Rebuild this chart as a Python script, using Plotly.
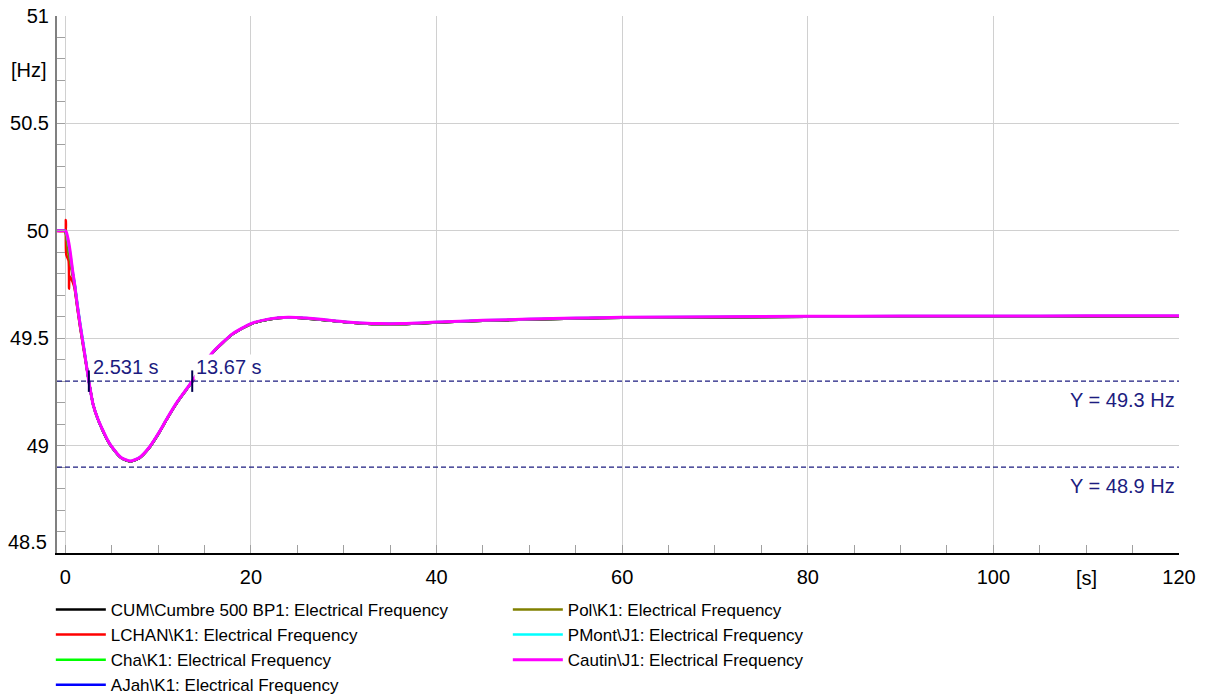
import plotly.graph_objects as go

# ---------------- data ----------------
# early transient (per series), seconds / Hz
T_CAUTIN_EARLY = [-1.0, 0.0, 0.1, 0.3, 0.5, 0.8, 1.0, 1.3, 1.6, 2.0]
V_CAUTIN_EARLY = [50.0, 50.0, 49.995, 49.96, 49.91, 49.81, 49.75, 49.65, 49.56, 49.45]

T_LCHAN_EARLY = [-1.0, 0.0, 0.05, 0.1, 0.35, 0.4, 0.45, 0.8, 1.0, 1.3, 1.6, 2.0]
V_LCHAN_EARLY = [50.0, 50.0, 50.05, 49.89, 49.86, 49.73, 49.79, 49.76, 49.73, 49.64, 49.55, 49.45]

T_POL_EARLY = [-1.0, 0.0, 0.1, 0.3, 0.5, 0.8, 1.0, 1.3, 1.6, 2.0]
V_POL_EARLY = [50.0, 50.0, 49.97, 49.90, 49.86, 49.79, 49.74, 49.64, 49.55, 49.44]

T_PMONT_EARLY = [-1.0, 0.0, 0.1, 0.3, 0.5, 0.8, 1.0, 1.3, 1.6, 2.0]
V_PMONT_EARLY = [50.0, 50.0, 49.99, 49.95, 49.90, 49.81, 49.76, 49.66, 49.57, 49.46]

T_OTHER_EARLY = [-1.0, 0.0, 0.1, 0.3, 0.5, 0.8, 1.0, 1.3, 1.6, 2.0]
V_OTHER_EARLY = [50.0, 50.0, 49.98, 49.93, 49.88, 49.80, 49.75, 49.65, 49.56, 49.45]

# common tail after the first 2 s
T_TAIL = [2.531, 3.0, 3.5, 4.0, 4.5, 5.0, 6.0, 7.0, 8.0, 9.0, 10.0, 11.0, 12.0, 13.0,
          13.67, 15.0, 16.0, 18.0, 20.0, 22.0, 24.0, 26.0, 28.0, 30.0, 32.0, 34.0,
          36.0, 38.0, 40.0, 45.0, 50.0, 55.0, 60.0, 70.0, 80.0, 90.0, 100.0, 110.0, 120.0]
V_TAIL = [49.30, 49.19, 49.125, 49.075, 49.03, 48.995, 48.945, 48.928, 48.945, 48.99, 49.055, 49.13, 49.20, 49.26,
          49.30, 49.385, 49.44, 49.52, 49.568, 49.590, 49.598, 49.594, 49.586, 49.577, 49.571, 49.568,
          49.568, 49.571, 49.575, 49.583, 49.589, 49.594, 49.597, 49.600, 49.602, 49.603, 49.603, 49.604, 49.604]
V_TAIL_OTHER = [49.30, 49.19, 49.123, 49.073, 49.028, 48.993, 48.943, 48.926, 48.943, 48.988, 49.053, 49.128, 49.198, 49.258,
                49.298, 49.383, 49.438, 49.518, 49.566, 49.588, 49.596, 49.592, 49.584, 49.575, 49.569, 49.566,
                49.566, 49.569, 49.573, 49.581, 49.587, 49.592, 49.595, 49.598, 49.600, 49.601, 49.601, 49.602, 49.602]

SERIES_NAMES = [
    "CUM\\Cumbre 500 BP1: Electrical Frequency",
    "LCHAN\\K1: Electrical Frequency",
    "Cha\\K1: Electrical Frequency",
    "AJah\\K1: Electrical Frequency",
    "Pol\\K1: Electrical Frequency",
    "PMont\\J1: Electrical Frequency",
    "Cautin\\J1: Electrical Frequency",
]
SERIES_COLORS = ["#000000", "#ff0000", "#00ff00", "#0000ff", "#808000", "#00ffff", "#ff00ff"]
LEGEND_RANKS = [1, 3, 5, 7, 2, 4, 6]

SERIES_DATA = [
    (T_OTHER_EARLY, V_OTHER_EARLY, V_TAIL_OTHER),
    (T_LCHAN_EARLY, V_LCHAN_EARLY, V_TAIL_OTHER),
    (T_OTHER_EARLY, V_OTHER_EARLY, V_TAIL_OTHER),
    (T_OTHER_EARLY, V_OTHER_EARLY, V_TAIL_OTHER),
    (T_POL_EARLY, V_POL_EARLY, V_TAIL_OTHER),
    (T_PMONT_EARLY, V_PMONT_EARLY, V_TAIL),
    (T_CAUTIN_EARLY, V_CAUTIN_EARLY, V_TAIL),
]

THRESHOLDS = [49.3, 48.9]
THRESHOLD_LABELS = ["Y = 49.3 Hz", "Y = 48.9 Hz"]
CROSS_TIMES = [2.531, 13.67]
CROSS_LABELS = ["2.531 s", "13.67 s"]
CROSS_LEVEL = 49.3

X_TICKS = [0, 20, 40, 60, 80, 100, 120]
Y_TICKS = [48.5, 49, 49.5, 50, 50.5, 51]
Y_TICK_TEXT = ["", "49", "49.5", "50", "50.5", "51"]
Y_BOTTOM_LABEL = "48.5"

# ---------------- figure ----------------
FONT = "Liberation Sans, Arial, sans-serif"
NAVY = "#1c1c80"
TXT = 20

fig = go.Figure()
for name, color, rank, (te, ve, vt) in zip(SERIES_NAMES, SERIES_COLORS, LEGEND_RANKS, SERIES_DATA):
    fig.add_trace(go.Scatter(
        x=te + T_TAIL, y=ve + vt, mode="lines", name=name,
        line=dict(color=color, width=3 if color == "#ff00ff" else 2.5, shape="spline", smoothing=0.6),
        legendrank=rank, hoverinfo="skip",
    ))

for lvl, lab in zip(THRESHOLDS, THRESHOLD_LABELS):
    fig.add_shape(type="line", xref="paper", x0=0, x1=1, yref="y", y0=lvl, y1=lvl,
                  line=dict(color=NAVY, width=1.3, dash="5px,3px"), layer="above")
    fig.add_annotation(xref="paper", x=1, yref="y", y=lvl, text=lab, showarrow=False,
                       xanchor="right", yanchor="middle", xshift=-2, yshift=-19,
                       font=dict(family=FONT, size=TXT, color=NAVY))

for t, lab in zip(CROSS_TIMES, CROSS_LABELS):
    fig.add_shape(type="line", xref="x", x0=t, x1=t, yref="y", y0=CROSS_LEVEL - 0.05, y1=CROSS_LEVEL + 0.05,
                  line=dict(color="#000050", width=2), layer="above")
    fig.add_annotation(xref="x", x=t, yref="y", y=CROSS_LEVEL, text=lab, showarrow=False,
                       xanchor="left", yanchor="middle", xshift=2, yshift=14,
                       bgcolor="white", borderpad=1,
                       font=dict(family=FONT, size=TXT, color=NAVY))

# unit labels in place of ticks, and the lifted bottom y label
fig.add_annotation(xref="paper", x=0, yref="y", y=50.75, text="[Hz]", showarrow=False,
                   xanchor="right", yanchor="middle", xshift=-8,
                   font=dict(family=FONT, size=TXT, color="black"))
fig.add_annotation(xref="paper", x=0, yref="y", y=Y_TICKS[0], text=Y_BOTTOM_LABEL, showarrow=False,
                   xanchor="right", yanchor="middle", xshift=-8, yshift=11,
                   font=dict(family=FONT, size=TXT, color="black"))
fig.add_annotation(xref="x", x=110, yref="paper", y=0, text="[s]", showarrow=False,
                   xanchor="center", yanchor="top", yshift=-12,
                   font=dict(family=FONT, size=TXT, color="black"))

fig.update_layout(
    width=1205, height=697,
    margin=dict(l=57, r=26, t=16, b=144, autoexpand=False),
    paper_bgcolor="white", plot_bgcolor="white",
    font=dict(family=FONT, size=TXT, color="black"),
    showlegend=True,
    legend=dict(orientation="h", x=-0.0055, xanchor="left", y=-0.0725, yanchor="top",
                entrywidth=392, entrywidthmode="pixels", itemwidth=50,
                traceorder="normal", font=dict(family=FONT, size=17, color="black"),
                bgcolor="rgba(0,0,0,0)"),
    xaxis=dict(range=[-0.9, 120], tickvals=X_TICKS, showgrid=True, gridcolor="#d0d0d0", gridwidth=1,
               zeroline=False, showline=True, linecolor="black", linewidth=2,
               ticks="inside", ticklen=8, tickcolor="#a0a0a0", ticklabelstandoff=5,
               minor=dict(dtick=5, tick0=0, ticks="inside", ticklen=8, tickcolor="#a0a0a0", showgrid=False),
               tickfont=dict(family=FONT, size=TXT)),
    yaxis=dict(range=[48.5, 51], tickvals=Y_TICKS, ticktext=Y_TICK_TEXT, showgrid=True, gridcolor="#d0d0d0",
               gridwidth=1, zeroline=False, showline=True, linecolor="#808080", linewidth=2,
               ticks="inside", ticklen=8, tickcolor="#a0a0a0", ticklabelstandoff=2,
               minor=dict(dtick=0.1, tick0=48.5, ticks="inside", ticklen=8, tickcolor="#a0a0a0", showgrid=False),
               tickfont=dict(family=FONT, size=TXT)),
)

fig.write_html("out.html")
